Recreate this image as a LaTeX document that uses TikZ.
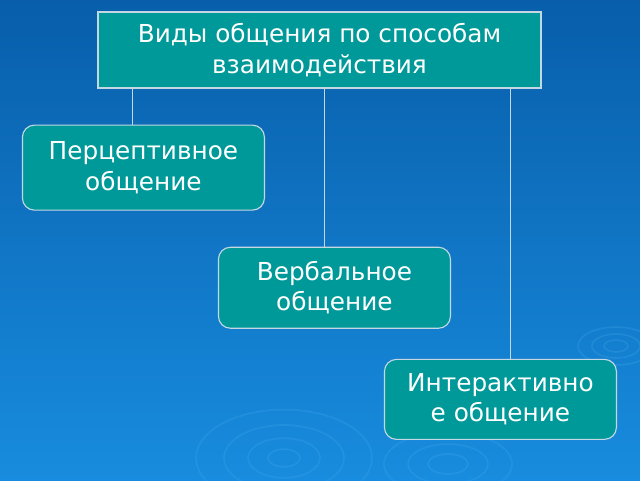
\documentclass[tikz,border=0pt]{standalone}
\usepackage{fontspec}
\setmainfont{DejaVu Sans}
\usepackage{xcolor}
\definecolor{bgtop}{RGB}{8,94,170}
\definecolor{bgbottom}{RGB}{24,140,222}
\definecolor{tealbox}{RGB}{0,153,153}
\definecolor{rimline}{RGB}{196,216,228}
\definecolor{ripplecol}{RGB}{70,170,235}
\usepackage{tikz}
\usetikzlibrary{positioning}

\begin{document}
\begin{tikzpicture}[
    headbox/.style={rectangle, draw=rimline, fill=tealbox, text=white, line width=0.8pt, minimum width=11.075cm, minimum height=1.9cm, align=center, font=\fontsize{17.6}{21.5}\selectfont, inner sep=0pt},
    roundbox/.style={rectangle, draw=rimline, fill=tealbox, text=white, line width=0.8pt, rounded corners=0.3cm, minimum width=5.8cm, minimum height=2.0cm, align=center, font=\fontsize{17.6}{21.5}\selectfont, inner sep=0pt},
    line/.style={draw=rimline, line width=0.6pt},
    ripple/.style={draw=ripplecol, line width=1.2pt, opacity=0.25}
  ]
    % Background
    \shade [top color=bgtop, bottom color=bgbottom] (0,0) rectangle (16,-12);
    \useasboundingbox (0,0) rectangle (16,-12);

    % Ripples
    \foreach \r in {0.4,0.9,1.5,2.2} {
      \draw [ripple] (7.1,-11.45) ellipse ({\r} and {0.55*\r});
    }
    \foreach \r in {0.3,0.6,0.95} {
      \draw [ripple] (15.4,-8.65) ellipse ({\r} and {0.5*\r});
    }
    \foreach \r in {0.5,1.0,1.6} {
      \draw [ripple] (11.2,-11.6) ellipse ({\r} and {0.5*\r});
    }

    % Nodes
    \node [headbox] (types) at (7.9875,-1.25) {Виды общения по способам\\взаимодействия};
    \node [roundbox, minimum width=6.05cm, minimum height=2.125cm, below=0.9cm of types.south west, xshift=1.15cm] (percept) {Перцептивное\\общение};
    \node [roundbox, minimum height=2.025cm, below=0.9cm of percept, xshift=4.775cm] (verbal) {Вербальное\\общение};
    \node [roundbox, below=0.75cm of verbal, xshift=4.15cm] (interact) {Интерактивно\\е общение};

    % Connectors
    \path [line] ([xshift=-0.275cm]percept.north) -- ([xshift=-0.275cm]percept.north |- types.south);
    \path [line] ([xshift=-0.25cm]verbal.north) -- ([xshift=-0.25cm]verbal.north |- types.south);
    \path [line] ([xshift=0.25cm]interact.north) -- ([xshift=0.25cm]interact.north |- types.south);

\end{tikzpicture}
\end{document}
